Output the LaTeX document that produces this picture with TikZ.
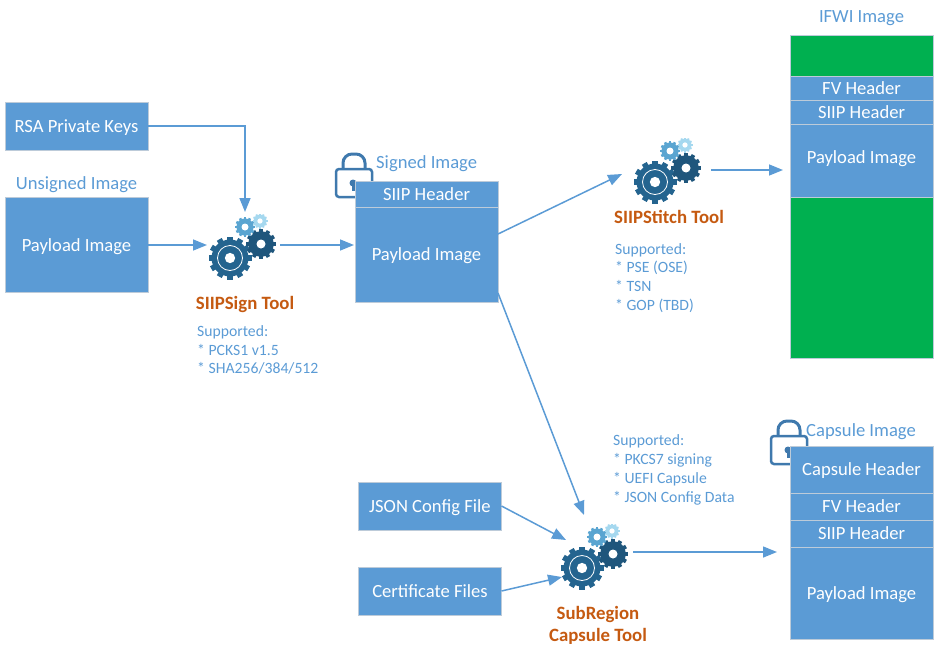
\documentclass[tikz,border=0pt]{standalone}
\usepackage{fontspec}
\setmainfont{Carlito}
\usepackage{tikz}
\usetikzlibrary{arrows.meta, positioning}
\definecolor{boxblue}{HTML}{5B9BD5}
\definecolor{boxline}{HTML}{BDCBD9}
\definecolor{toolorange}{HTML}{C55A11}
\definecolor{ifwigreen}{HTML}{00B050}
\definecolor{lockblue}{HTML}{3F79AD}
\definecolor{geardark}{HTML}{24648F}
\definecolor{gearnavy}{HTML}{1F567C}
\definecolor{gearmid}{HTML}{5AA5D1}
\definecolor{gearlight}{HTML}{A5D8EF}

\tikzset{
  pics/gearwheel/.style n args={3}{code={
    \foreach \a in {0,30,...,330}
      \fill[#2,rotate=\a] (-#1*0.13,0) rectangle (#1*0.13,#1);
    \fill[#2] (0,0) circle ({#1*0.86});
    \fill[white] (0,0) circle ({#1*#3});
  }},
  pics/gearset/.style={code={
    \pic at (0,0) {gearwheel={21.5}{geardark}{0.24}};
    \draw[white,line width=0.8pt] (0,0) circle (12.5);
    \pic at (31,-14) {gearwheel={15}{gearnavy}{0.3}};
    \pic at (15,-31) {gearwheel={10}{gearmid}{0.35}};
    \pic at (30,-37) {gearwheel={7.5}{gearlight}{0.35}};
  }},
  pics/padlock/.style={code={
    \draw[lockblue,line width=3pt,rounded corners=9pt] (-11,-16) -- (-11,-31) -- (11,-31) -- (11,-16);
    \draw[lockblue,line width=2.5pt,fill=white,rounded corners=3pt] (-18,-16) rectangle (18,12);
    \fill[lockblue] (-1,-2) circle (3.5);
    \fill[lockblue] (-2.5,-2) rectangle (0.5,6);
  }}
}

\begin{document}
\begin{tikzpicture}[x=1pt,y=-1pt,>={Triangle[length=14pt,width=11pt]},
    block/.style={draw=boxline,line width=1pt,fill=boxblue,text=white,minimum width=143pt,
      inner sep=0pt,outer sep=0pt,text height=16pt,text depth=3.8pt,font=\fontsize{18.6}{22}\selectfont},
    greenblock/.style={block,fill=ifwigreen},
    caption/.style={text=boxblue,inner sep=0pt,font=\fontsize{18.6}{22}\selectfont},
    toolname/.style={text=toolorange,inner sep=0pt,align=center,font=\fontsize{18.8}{22.5}\selectfont\bfseries},
    notes/.style={text=boxblue,inner sep=0pt,align=left,anchor=west,font=\fontsize{15.7}{18.8}\selectfont},
    link/.style={->,boxblue,line width=1.5pt}]

  \useasboundingbox (0,0) rectangle (939,656);

  % input side
  \node[block,minimum height=48pt]  (keys)     at (76.5,126)  {RSA Private Keys};
  \node[block,minimum height=95pt]  (unsigned) at (76.5,245) {Payload Image};
  \node[caption]                    (unsignedcap) at (76.5,185) {Unsigned Image};

  % signed image
  \pic at (354,185) {padlock};
  \node[block,minimum height=26pt]  (signedhdr)  at (426.5,194) {SIIP Header};
  \node[block,minimum height=95pt,below=0pt of signedhdr] (signedbody) {Payload Image};
  \node[caption,anchor=west]        (signedcap)  at (376,164) {Signed Image};

  % ifwi image
  \node[caption]                    (ifwicap)  at (861.5,18) {IFWI Image};
  \node[greenblock,minimum height=41pt] (ifwitop) at (861.5,55.5) {};
  \node[block,minimum height=24pt,below=0pt of ifwitop]  (ifwifv)   {FV Header};
  \node[block,minimum height=24pt,below=0pt of ifwifv]   (ifwisiip) {SIIP Header};
  \node[block,minimum height=73pt,below=0pt of ifwisiip] (ifwibody) {};
  \node[block,draw=none,fill=none,anchor=center] (ifwipay) at (861.5,157) {Payload Image};
  \node[greenblock,minimum height=161pt,below=0pt of ifwibody] (ifwibot) {};

  % capsule image
  \pic at (789,452) {padlock};
  \node[caption,anchor=west]        (capsulecap) at (806,432) {Capsule Image};
  \node[block,minimum height=47pt]  (capsulehdr) at (861.5,469.5) {Capsule Header};
  \node[block,minimum height=27pt,below=0pt of capsulehdr] (capsulefv)   {FV Header};
  \node[block,minimum height=27pt,below=0pt of capsulefv]  (capsulesiip) {SIIP Header};
  \node[block,minimum height=92pt,below=0pt of capsulesiip] (capsulebody) {Payload Image};

  % subregion inputs
  \node[block,minimum height=48pt]  (json) at (430,506) {JSON Config File};
  \node[block,minimum height=48pt]  (cert) at (430,591) {Certificate Files};

  % tools
  \pic at (230,258) {gearset};
  \pic at (655,182) {gearset};
  \pic at (582,568) {gearset};

  \node[toolname] (signname)    at (245,304.5) {SIIPSign Tool};
  \node[toolname] (stitchname)  at (669,216.5) {SIIPStitch Tool};
  \node[toolname] (subname)     at (598,625.5) {SubRegion\\Capsule Tool};

  \node[notes] (signnotes)   at (197,350) {Supported:\\* PCKS1 v1.5\\* SHA256/384/512};
  \node[notes] (stitchnotes) at (615,278) {Supported:\\* PSE (OSE)\\* TSN\\* GOP (TBD)};
  \node[notes] (subnotes)    at (613,470) {Supported:\\* PKCS7 signing\\* UEFI Capsule\\* JSON Config Data};

  % free ends of the connectors
  \coordinate (signtop)   at (245,212);
  \coordinate (signin)    at (207,245);
  \coordinate (signout)   at (280,245);
  \coordinate (signedin)  at (354,245);
  \coordinate (signedup)  at (498,234);
  \coordinate (signeddn)  at (498,293);
  \coordinate (stitchin)  at (622,174);
  \coordinate (stitchout) at (711,170);
  \coordinate (ifwiin)    at (783,170);
  \coordinate (subtop)    at (584,515);
  \coordinate (subjson)   at (566,540);
  \coordinate (subcert)   at (562,577);
  \coordinate (subout)    at (633,552);
  \coordinate (capsulein) at (777,552);

  \draw[link] (keys.east) -| (signtop);
  \draw[link] (unsigned.east) -- (signin);
  \draw[link] (signout) -- (signedin);
  \draw[link] (signedup) -- (stitchin);
  \draw[link] (signeddn) -- (subtop);
  \draw[link] (stitchout) -- (ifwiin);
  \draw[link] (json.east) -- (subjson);
  \draw[link] (cert.east) -- (subcert);
  \draw[link] (subout) -- (capsulein);
\end{tikzpicture}
\end{document}
